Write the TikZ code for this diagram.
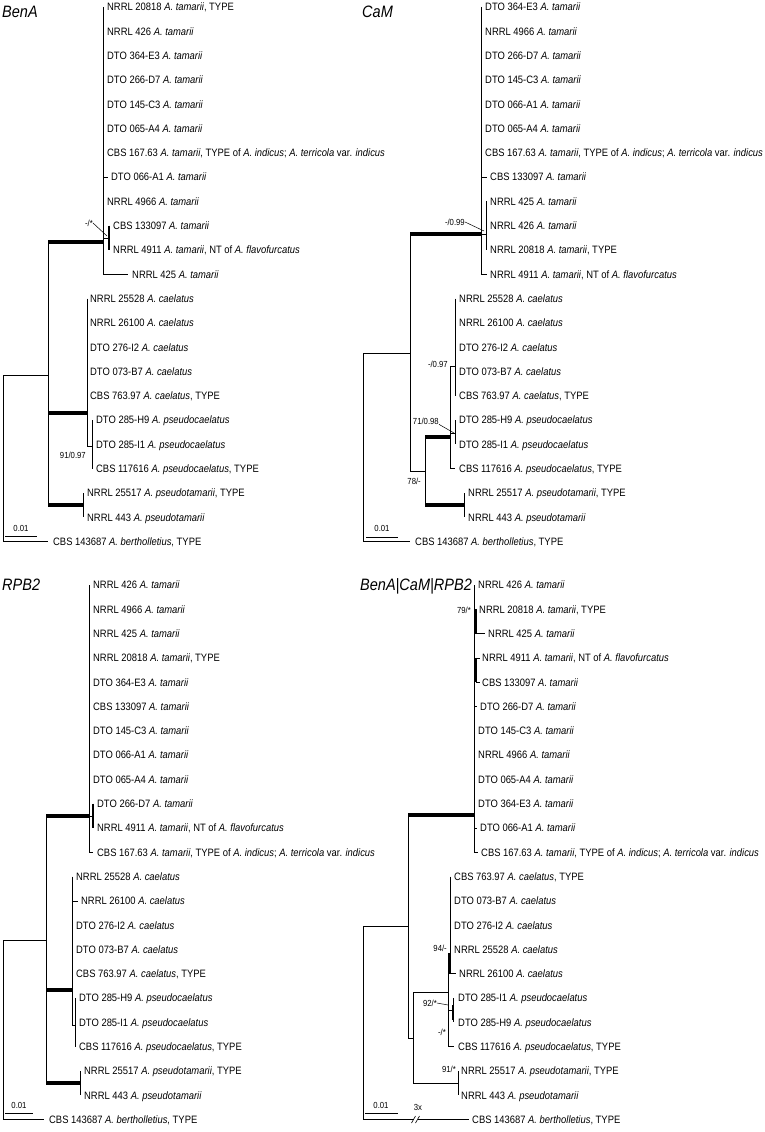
\documentclass[tikz,border=0pt]{standalone}
\usepackage{fontspec}
\setmainfont{Liberation Sans}[FakeStretch=0.88]
\newcommand\Atam{\textit{A. tamarii}}
\newcommand\Acae{\textit{A. caelatus}}
\newcommand\Apsc{\textit{A. pseudocaelatus}}
\newcommand\Apst{\textit{A. pseudotamarii}}
\newcommand\Aber{\textit{A. bertholletius}}
\newcommand\Aflav{NT of \textit{A. flavofurcatus}}
\newcommand\Aind{TYPE of \textit{A. indicus}; \textit{A. terricola} var. \textit{indicus}}
\begin{document}
\begin{tikzpicture}[x=1pt,y=-1pt,
  lab/.style={anchor=west,inner sep=0pt,text height=7.6pt,text depth=0pt,font=\fontsize{10.7}{12}\selectfont},
  supv/.style={inner sep=0pt,text height=6.3pt,text depth=0pt,font=\fontsize{8.8}{10}\selectfont},
  ttl/.style={anchor=west,inner sep=0pt,text height=11.8pt,text depth=0pt,font=\fontsize{16.5}{19}\selectfont\itshape},
  br/.style={line width=0.8pt},
  tk/.style={line width=3.6pt},
  ldr/.style={line width=0.5pt}]
\useasboundingbox (0,0) rectangle (764,1132);

% ================= BenA =================
\node[ttl] (tA) at (2,12) {BenA};
\foreach \r/\x/\t [count=\i] in {
 0/107/{NRRL 20818 \Atam, TYPE},
 1/107/{NRRL 426 \Atam},
 2/107/{DTO 364-E3 \Atam},
 3/107/{DTO 266-D7 \Atam},
 4/107/{DTO 145-C3 \Atam},
 5/107/{DTO 065-A4 \Atam},
 6/107/{CBS 167.63 \Atam, \Aind},
 7/111/{DTO 066-A1 \Atam},
 8/107/{NRRL 4966 \Atam},
 9/113/{CBS 133097 \Atam},
 10/113/{NRRL 4911 \Atam, \Aflav},
 11/132/{NRRL 425 \Atam},
 12/90/{NRRL 25528 \Acae},
 13/90/{NRRL 26100 \Acae},
 14/90/{DTO 276-I2 \Acae},
 15/90/{DTO 073-B7 \Acae},
 16/90/{CBS 763.97 \Acae, TYPE},
 17/96/{DTO 285-H9 \Apsc},
 18/96/{DTO 285-I1 \Apsc},
 19/96/{CBS 117616 \Apsc, TYPE},
 20/87/{NRRL 25517 \Apst, TYPE},
 21/87/{NRRL 443 \Apst},
 22/53/{CBS 143687 \Aber, TYPE}}
 {\node[lab] (a\i) at (\x,{7+24.3*\r}) {\t};}
\draw[br] (103,7) -- (103,274.3) -- (128,274.3);
\draw[br] (103,177.1) -- (108,177.1);
\draw[br] (103,238) -- (109,238);
\draw[br,line width=1.3pt] (109,225.7) -- (109,250);
\draw[tk] (48,242) -- (103,242);
\draw[br] (48,242) -- (48,505);
\draw[tk] (48,413) -- (87,413);
\draw[br] (87,298.6) -- (87,446) -- (92,446);
\draw[br] (92,420.1) -- (92,468.7);
\draw[tk] (48,505) -- (83,505);
\draw[br] (83,493) -- (83,517.3);
\draw[br] (48,375) -- (3,375) -- (3,541.6) -- (48,541.6);
\draw[br] (5,536) -- (37,536);
\node[supv] (sa0) at (21,528) {0.01};
\node[supv,anchor=east] (sa1) at (93,223) {-/*};
\draw[ldr] (sa1.east) -- (107,236);
\node[supv,anchor=east] (sa2) at (86,455) {91/0.97};

% ================= CaM =================
\node[ttl] (tC) at (362,12) {CaM};
\foreach \r/\x/\t [count=\i] in {
 0/485/{DTO 364-E3 \Atam},
 1/485/{NRRL 4966 \Atam},
 2/485/{DTO 266-D7 \Atam},
 3/485/{DTO 145-C3 \Atam},
 4/485/{DTO 066-A1 \Atam},
 5/485/{DTO 065-A4 \Atam},
 6/485/{CBS 167.63 \Atam, \Aind},
 7/490/{CBS 133097 \Atam},
 8/490/{NRRL 425 \Atam},
 9/490/{NRRL 426 \Atam},
 10/490/{NRRL 20818 \Atam, TYPE},
 11/490/{NRRL 4911 \Atam, \Aflav},
 12/459/{NRRL 25528 \Acae},
 13/459/{NRRL 26100 \Acae},
 14/459/{DTO 276-I2 \Acae},
 15/459/{DTO 073-B7 \Acae},
 16/459/{CBS 763.97 \Acae, TYPE},
 17/459/{DTO 285-H9 \Apsc},
 18/459/{DTO 285-I1 \Apsc},
 19/459/{CBS 117616 \Apsc, TYPE},
 20/468/{NRRL 25517 \Apst, TYPE},
 21/468/{NRRL 443 \Apst},
 22/415/{CBS 143687 \Aber, TYPE}}
 {\node[lab] (c\i) at (\x,{7+24.3*\r}) {\t};}
\draw[br] (481,7) -- (481,274.3) -- (487,274.3);
\draw[br] (481,177.1) -- (487,177.1);
\draw[br] (481,234) -- (486,234);
\draw[br] (486,201.4) -- (486,250);
\draw[tk] (410,234) -- (481,234);
\draw[br] (410,234) -- (410,471);
\draw[br] (410,353) -- (363,353) -- (363,541.6) -- (410,541.6);
\draw[br] (410,471) -- (425,471);
\draw[br] (425,437) -- (425,505);
\draw[tk] (425,437) -- (450,437);
\draw[br] (450,366) -- (450,468.7) -- (455,468.7);
\draw[br] (450,366) -- (455,366);
\draw[br] (455,298.6) -- (455,395.8);
\draw[br] (450,433) -- (455,433);
\draw[br] (455,420.1) -- (455,444.4);
\draw[tk] (425,505) -- (464,505);
\draw[br] (464,493) -- (464,517.3);
\draw[br] (366,537) -- (398,537);
\node[supv] (sc0) at (382,528) {0.01};
\node[supv,anchor=east] (sc1) at (465,222) {-/0.99};
\draw[ldr] (sc1.east) -- (484,231);
\node[supv,anchor=east] (sc2) at (448,364) {-/0.97};
\node[supv,anchor=east] (sc3) at (439,421) {71/0.98};
\draw[ldr] (sc3.south east) -- (454,433);
\node[supv,anchor=east] (sc4) at (421,481) {78/-};

% ================= RPB2 =================
\node[ttl] (tR) at (2,585) {RPB2};
\foreach \r/\x/\t [count=\i] in {
 0/93/{NRRL 426 \Atam},
 1/93/{NRRL 4966 \Atam},
 2/93/{NRRL 425 \Atam},
 3/93/{NRRL 20818 \Atam, TYPE},
 4/93/{DTO 364-E3 \Atam},
 5/93/{CBS 133097 \Atam},
 6/93/{DTO 145-C3 \Atam},
 7/93/{DTO 066-A1 \Atam},
 8/93/{DTO 065-A4 \Atam},
 9/97/{DTO 266-D7 \Atam},
 10/97/{NRRL 4911 \Atam, \Aflav},
 11/97/{CBS 167.63 \Atam, \Aind},
 12/76/{NRRL 25528 \Acae},
 13/81/{NRRL 26100 \Acae},
 14/76/{DTO 276-I2 \Acae},
 15/76/{DTO 073-B7 \Acae},
 16/76/{CBS 763.97 \Acae, TYPE},
 17/79/{DTO 285-H9 \Apsc},
 18/79/{DTO 285-I1 \Apsc},
 19/79/{CBS 117616 \Apsc, TYPE},
 20/84/{NRRL 25517 \Apst, TYPE},
 21/84/{NRRL 443 \Apst},
 22/49/{CBS 143687 \Aber, TYPE}}
 {\node[lab] (r\i) at (\x,{585+24.3*\r}) {\t};}
\draw[br] (89,585) -- (89,852.3) -- (93,852.3);
\draw[br] (89,816) -- (93,816);
\draw[br,line width=1.3pt] (93,803.7) -- (93,828);
\draw[tk] (46,816) -- (89,816);
\draw[br] (46,816) -- (46,1083);
\draw[br] (46,940) -- (3,940) -- (3,1119.6) -- (44,1119.6);
\draw[tk] (46,990) -- (72,990);
\draw[br] (72,876.6) -- (72,1025) -- (75,1025);
\draw[br] (72,900.9) -- (78,900.9);
\draw[br] (75,998.1) -- (75,1046.7);
\draw[tk] (46,1083) -- (80,1083);
\draw[br] (80,1071) -- (80,1095.3);
\draw[br] (5,1113) -- (33,1113);
\node[supv] (sr0) at (19,1105) {0.01};

% ================= BenA|CaM|RPB2 =================
\node[ttl] (tB) at (360,585) {BenA|CaM|RPB2};
\foreach \r/\x/\t [count=\i] in {
 0/478/{NRRL 426 \Atam},
 1/479/{NRRL 20818 \Atam, TYPE},
 2/488/{NRRL 425 \Atam},
 3/482/{NRRL 4911 \Atam, \Aflav},
 4/482/{CBS 133097 \Atam},
 5/480/{DTO 266-D7 \Atam},
 6/478/{DTO 145-C3 \Atam},
 7/478/{NRRL 4966 \Atam},
 8/478/{DTO 065-A4 \Atam},
 9/478/{DTO 364-E3 \Atam},
 10/480/{DTO 066-A1 \Atam},
 11/481/{CBS 167.63 \Atam, \Aind},
 12/454/{CBS 763.97 \Acae, TYPE},
 13/454/{DTO 073-B7 \Acae},
 14/454/{DTO 276-I2 \Acae},
 15/454/{NRRL 25528 \Acae},
 16/459/{NRRL 26100 \Acae},
 17/458/{DTO 285-I1 \Apsc},
 18/458/{DTO 285-H9 \Apsc},
 19/458/{CBS 117616 \Apsc, TYPE},
 20/461/{NRRL 25517 \Apst, TYPE},
 21/461/{NRRL 443 \Apst},
 22/472/{CBS 143687 \Aber, TYPE}}
 {\node[lab] (m\i) at (\x,{585+24.3*\r}) {\t};}
\draw[br] (474,585) -- (474,852.3) -- (478,852.3);
\draw[br] (474,621) -- (476,621);
\draw[br,line width=1.3pt] (476,609.3) -- (476,633.6);
\draw[br] (476,633.6) -- (485,633.6);
\draw[br] (474,670) -- (476,670);
\draw[br,line width=1.3pt] (476,657.9) -- (476,682.2);
\draw[br] (476,657.9) -- (480,657.9);
\draw[br] (476,682.2) -- (480,682.2);
\draw[br] (474,706.5) -- (477,706.5);
\draw[br] (474,828) -- (477,828);
\draw[tk] (408,815) -- (474,815);
\draw[br] (408,815) -- (408,1038) -- (413,1038);
\draw[br] (408,926) -- (363,926) -- (363,1119.6) -- (469,1119.6);
\draw[br] (413,992) -- (413,1083) -- (458,1083);
\draw[br] (413,992) -- (448,992);
\draw[br] (448,953) -- (448,1046.7) -- (454,1046.7);
\draw[br] (448,953) -- (450,953);
\draw[br] (450,876.6) -- (450,973.8) -- (456,973.8);
\draw[line width=1.8pt] (450,953) -- (450,973.8);
\draw[br] (448,1010) -- (453,1010);
\draw[br] (453,998.1) -- (453,1022.4);
\draw[line width=1.8pt] (453,1005) -- (453,1020);
\draw[br] (458,1071) -- (458,1095.3);
\fill[white] (413.5,1116) rectangle (417.5,1123);
\draw[line width=0.6pt] (411.5,1123) -- (415.5,1116);
\draw[line width=0.6pt] (415.5,1123) -- (419.5,1116);
\node[supv] (sm5) at (418,1107) {3x};
\draw[br] (365,1113) -- (398,1113);
\node[supv] (sm0) at (381,1105) {0.01};
\node[supv,anchor=east] (sm1) at (471,610) {79/*};
\node[supv,anchor=east] (sm2) at (447,948) {94/-};
\node[supv,anchor=east] (sm3) at (437,1003) {92/*};
\draw[ldr] (sm3.east) -- (448,1005);
\node[supv,anchor=east] (sm4) at (446,1032) {-/*};
\node[supv,anchor=east] (sm6) at (456,1069) {91/*};
\end{tikzpicture}
\end{document}
